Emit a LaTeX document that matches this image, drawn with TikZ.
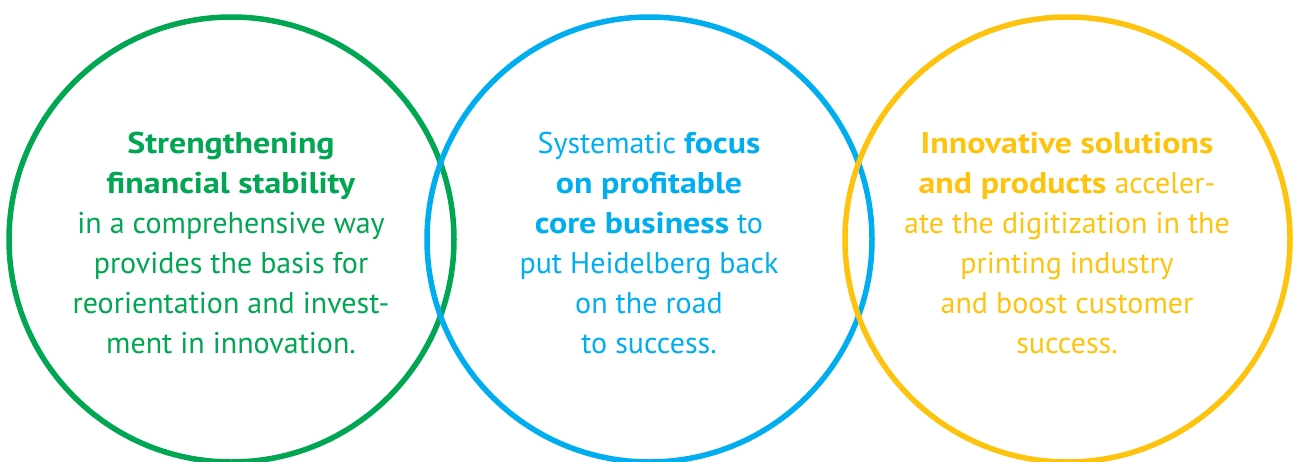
\documentclass[tikz,border=0pt]{standalone}
\usepackage{fontspec}
\setmainfont[BoldFeatures={FakeStretch=1.13}]{PT Sans}
\definecolor{hgreen}{HTML}{00A651}
\definecolor{hblue}{HTML}{00AEEF}
\definecolor{hyellow}{HTML}{FDC30F}
\tikzset{
  ring/.style={circle, draw=#1, line width=5.5pt, minimum size=445pt, inner sep=0pt},
  txt/.style={text=#1, align=center, font=\fontsize{30}{40}\selectfont, inner sep=0pt}
}
\begin{document}
\begin{tikzpicture}[x=1pt,y=-1pt]
\useasboundingbox (0,0) rectangle (1293,461);
\node[ring=hgreen] (c1) at (231.5,239.5) {};
\node[ring=hblue] (c2) at (649.5,239.5) {};
\node[ring=hyellow] (c3) at (1067.5,239.5) {};
\node[txt=hgreen] (t1) at (231,243) {\textbf{Strengthening}\\\textbf{financial stability}\\in a comprehensive way\\provides the basis for\\reorientation and invest-\\ment in innovation.};
\node[txt=hblue] (t2) at (649,243) {Systematic \textbf{focus}\\\textbf{on profitable}\\\textbf{core business} to\\put Heidelberg back\\on the road\\to success.};
\node[txt=hyellow] (t3) at (1067,243) {\textbf{Innovative solutions}\\\textbf{and products} acceler-\\ate the digitization in the\\printing industry\\and boost customer\\success.};
\end{tikzpicture}
\end{document}
